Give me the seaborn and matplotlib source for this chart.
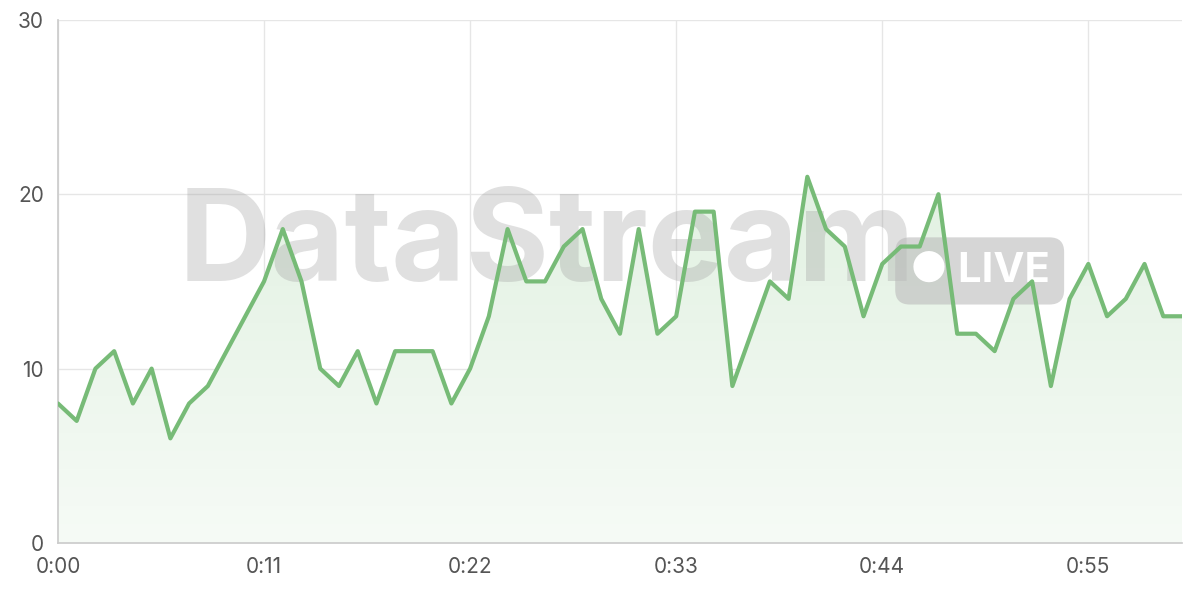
import matplotlib
matplotlib.use("Agg")
import matplotlib.pyplot as plt
import seaborn as sns
import numpy as np
import pandas as pd
from matplotlib.colors import LinearSegmentedColormap

minutes = list(range(61))
values = [8,7,10,11,8,10,6,8,9,11,13,15,18,15,10,9,11,8,11,11,11,8,10,13,18,15,15,17,18,14,
          12,18,12,13,19,19,9,12,15,14,21,18,17,13,16,17,17,20,12,12,11,14,15,9,14,16,13,14,16,13,13]
tick_pos = [0,11,22,33,44,55]
tick_labels = ["0:00","0:11","0:22","0:33","0:44","0:55"]
y_ticks = [0,10,20,30]

sns.set_theme(style="white")
plt.rcParams['font.family'] = ['Inter', 'DejaVu Sans']
fig = plt.figure(figsize=(12,6), dpi=100)
ax = fig.add_axes([0.0483, 0.095, 0.9367, 0.872])
df = pd.DataFrame({"m": minutes, "v": values})
green = "#77bb77"

x = np.array(minutes, float); y = np.array(values, float)
grad = np.linspace(0, 1, 256).reshape(-1,1)
cmap = LinearSegmentedColormap.from_list("g", ["#f6fbf6", "#e2f1e2"])
im = ax.imshow(grad, aspect="auto", cmap=cmap, extent=[0,60,0,max(values)], origin="lower", zorder=1)
poly = ax.fill_between(x, y, 0, color="none")
im.set_clip_path(poly.get_paths()[0], transform=ax.transData)

ax.text(0.435, 0.565, "DataStream", transform=ax.transAxes, ha="center", va="center",
        fontsize=92, fontweight="bold", color="#999999", alpha=0.3, zorder=2)
ax.text(0.82, 0.52, "● LIVE", transform=ax.transAxes, ha="center", va="center",
        fontsize=30, fontweight="bold", color="white", zorder=3,
        bbox=dict(boxstyle="round,pad=0.35", fc="#bbbbbb", ec="none", alpha=0.6))

sns.lineplot(data=df, x="m", y="v", ax=ax, color=green, linewidth=3, zorder=4)
ax.set_xlim(0, 60); ax.set_ylim(0, 30)
ax.set_xticks(tick_pos); ax.set_xticklabels(tick_labels)
ax.set_yticks(y_ticks)
ax.set_xlabel(""); ax.set_ylabel("")
ax.grid(True, color="#e6e6e6", linewidth=1)
for s in ["top","right"]:
    ax.spines[s].set_visible(False)
for s in ["left","bottom"]:
    ax.spines[s].set_color("#cccccc")
ax.tick_params(axis="both", labelsize=15, colors="#555555", length=0, pad=10)
fig.savefig("out.png", dpi=100)
